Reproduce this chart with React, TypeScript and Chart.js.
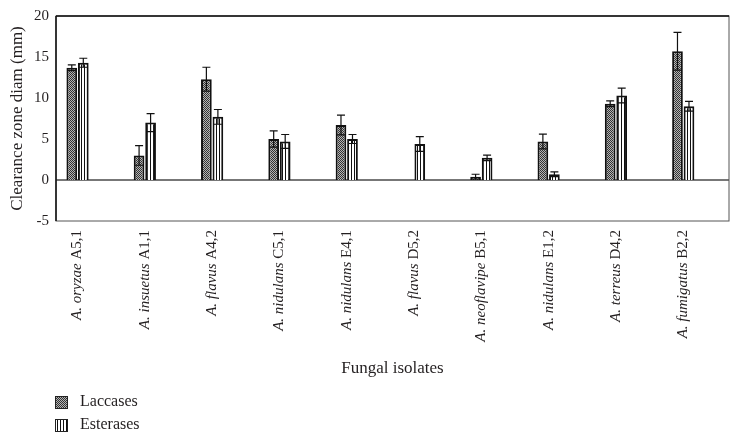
import { useEffect, useRef } from "react";
import { Chart, registerables } from "chart.js";

Chart.register(...registerables);

const species = [
  "A. oryzae",
  "A. insuetus",
  "A. flavus",
  "A. nidulans",
  "A. nidulans",
  "A. flavus",
  "A. neoflavipe",
  "A. nidulans",
  "A. terreus",
  "A. fumigatus",
];
const strains = ["A5,1", "A1,1", "A4,2", "C5,1", "E4,1", "D5,2", "B5,1", "E1,2", "D4,2", "B2,2"];
const laccases: (number | null)[] = [13.7, 3.0, 12.3, 5.0, 6.7, null, 0.4, 4.7, 9.3, 15.7];
const laccasesErr = [0.35, 1.2, 1.45, 1.0, 1.2, 0, 0.3, 0.9, 0.35, 2.3];
const esterases: (number | null)[] = [14.3, 7.0, 7.7, 4.7, 5.0, 4.4, 2.7, 0.7, 10.3, 9.0];
const esterasesErr = [0.55, 1.1, 0.9, 0.85, 0.55, 0.9, 0.33, 0.3, 0.9, 0.6];
const yTicks = [-5, 0, 5, 10, 15, 20];
const seriesLabels = ["Laccases", "Esterases"];
const yTitle = "Clearance zone diam (mm)";
const xTitle = "Fungal isolates";

const SERIF = '"Liberation Serif", "DejaVu Serif", serif';
const TEXT = "#231f20";

function makeCheckPattern(ctx: CanvasRenderingContext2D): CanvasPattern {
  const c = document.createElement("canvas");
  c.width = 2;
  c.height = 2;
  const g = c.getContext("2d")!;
  g.fillStyle = "#333333";
  g.fillRect(0, 0, 2, 2);
  g.fillStyle = "#b4b4b4";
  g.fillRect(1, 0, 1, 1);
  g.fillRect(0, 1, 1, 1);
  return ctx.createPattern(c, "repeat")!;
}

function makeStripePattern(ctx: CanvasRenderingContext2D): CanvasPattern {
  const c = document.createElement("canvas");
  c.width = 3;
  c.height = 1;
  const g = c.getContext("2d")!;
  g.fillStyle = "#ffffff";
  g.fillRect(0, 0, 3, 1);
  g.fillStyle = "#111111";
  g.fillRect(0, 0, 1, 1);
  return ctx.createPattern(c, "repeat")!;
}

const errorsPlugin = {
  id: "errorBarsAndDecor",
  beforeDatasetsDraw(chart: any) {
    const { ctx, chartArea, scales } = chart;
    const y0 = scales.y.getPixelForValue(0);
    ctx.save();
    ctx.strokeStyle = "#4a4a4a";
    ctx.lineWidth = 1.5;
    ctx.beginPath();
    ctx.moveTo(chartArea.left, y0);
    ctx.lineTo(chartArea.right, y0);
    ctx.stroke();
    ctx.restore();
  },
  afterDatasetsDraw(chart: any) {
    const { ctx, chartArea, scales } = chart;
    const errs = [laccasesErr, esterasesErr];
    ctx.save();
    ctx.strokeStyle = "#111";
    ctx.lineWidth = 1.2;
    chart.data.datasets.forEach((ds: any, di: number) => {
      const meta = chart.getDatasetMeta(di);
      meta.data.forEach((el: any, i: number) => {
        const v = ds.data[i].y;
        if (v === null || v === undefined) return;
        const e = errs[di][i];
        if (!e) return;
        const x = el.x;
        const yt = scales.y.getPixelForValue(v + e);
        const yb = scales.y.getPixelForValue(v - e);
        ctx.beginPath();
        ctx.moveTo(x, yt);
        ctx.lineTo(x, yb);
        ctx.moveTo(x - 4, yt);
        ctx.lineTo(x + 4, yt);
        ctx.moveTo(x - 4, yb);
        ctx.lineTo(x + 4, yb);
        ctx.stroke();
      });
    });
    ctx.restore();

    // frame
    ctx.save();
    ctx.strokeStyle = "#555";
    ctx.lineWidth = 1;
    ctx.strokeRect(chartArea.left, chartArea.top, chartArea.right - chartArea.left, chartArea.bottom - chartArea.top);
    ctx.strokeStyle = "#111";
    ctx.lineWidth = 1.5;
    ctx.beginPath();
    ctx.moveTo(chartArea.left, chartArea.top);
    ctx.lineTo(chartArea.right, chartArea.top);
    ctx.moveTo(chartArea.left, chartArea.top);
    ctx.lineTo(chartArea.left, chartArea.bottom);
    ctx.stroke();
    ctx.restore();

    // x labels (rotated, italic species + upright strain)
    ctx.save();
    ctx.fillStyle = TEXT;
    ctx.textBaseline = "middle";
    const italic = `italic 15px ${SERIF}`;
    const upright = `15px ${SERIF}`;
    species.forEach((sp, i) => {
      const x = scales.x.getPixelForValue(i);
      ctx.save();
      ctx.translate(x, chartArea.bottom + 9);
      ctx.rotate(-Math.PI / 2);
      ctx.textAlign = "right";
      ctx.font = upright;
      const tail = " " + strains[i];
      const tw = ctx.measureText(tail).width;
      ctx.fillText(tail, 0, 0);
      ctx.font = italic;
      ctx.fillText(sp, -tw, 0);
      ctx.restore();
    });
    ctx.restore();

    // axis titles
    ctx.save();
    ctx.fillStyle = TEXT;
    ctx.font = `17px ${SERIF}`;
    ctx.textAlign = "center";
    ctx.textBaseline = "middle";
    ctx.fillText(xTitle, (chartArea.left + chartArea.right) / 2, 369);
    ctx.translate(18, (chartArea.top + chartArea.bottom) / 2);
    ctx.rotate(-Math.PI / 2);
    ctx.fillText(yTitle, 0, 0);
    ctx.restore();

    // legend
    ctx.save();
    ctx.font = `16px ${SERIF}`;
    ctx.textAlign = "left";
    ctx.textBaseline = "middle";
    chart.data.datasets.forEach((ds: any, di: number) => {
      const cy = 402 + di * 23;
      ctx.fillStyle = ds.backgroundColor;
      ctx.fillRect(55, cy - 6, 13, 13);
      ctx.strokeStyle = "#222";
      ctx.lineWidth = 1;
      ctx.strokeRect(55.5, cy - 5.5, 12, 12);
      ctx.fillStyle = TEXT;
      ctx.fillText(ds.label, 80, cy);
    });
    ctx.restore();
  },
};

export default function App() {
  const canvasRef = useRef<HTMLCanvasElement | null>(null);

  useEffect(() => {
    const canvas = canvasRef.current!;
    const ctx = canvas.getContext("2d")!;
    const check = makeCheckPattern(ctx);
    const stripe = makeStripePattern(ctx);
    const chart = new Chart(canvas, {
      type: "bar",
      data: {
        datasets: [
          {
            label: seriesLabels[0],
            data: laccases.map((v, i) => ({ x: i, y: v })) as any,
            backgroundColor: check as any,
            borderColor: "#111",
            borderWidth: 2,
            categoryPercentage: 0.342,
            barPercentage: 0.93,
          },
          {
            label: seriesLabels[1],
            data: esterases.map((v, i) => ({ x: i, y: v })) as any,
            backgroundColor: stripe as any,
            borderColor: "#111",
            borderWidth: 2,
            categoryPercentage: 0.342,
            barPercentage: 0.93,
          },
        ],
      },
      options: {
        animation: false,
        responsive: false,
        maintainAspectRatio: false,
        layout: { padding: { top: 16, right: 11, left: 0, bottom: 0 } },
        plugins: {
          legend: { display: false },
          tooltip: { enabled: false },
        },
        scales: {
          x: {
            type: "linear",
            offset: false,
            min: -0.32,
            max: 9.68,
            grid: { display: false, offset: false },
            border: { display: false },
            ticks: { display: false },
            afterBuildTicks: (scale: any) => {
              scale.ticks = species.map((_, i) => ({ value: i }));
            },
            afterFit: (scale: any) => {
              scale.height = 221;
            },
          },
          y: {
            min: yTicks[0],
            max: yTicks[yTicks.length - 1],
            grid: { display: false, drawTicks: false },
            border: { display: false },
            afterBuildTicks: (scale: any) => {
              scale.ticks = yTicks.map((v) => ({ value: v }));
            },
            ticks: {
              color: TEXT,
              font: { family: SERIF, size: 15 },
              padding: 7,
            },
            afterFit: (scale: any) => {
              scale.width = 56;
            },
          },
        },
      },
      plugins: [errorsPlugin],
    });
    return () => chart.destroy();
  }, []);

  return (
    <div style={{ position: "fixed", left: 0, top: 0, width: 740, height: 442, background: "#fff" }}>
      <canvas ref={canvasRef} width={740} height={442} style={{ width: 740, height: 442 }} />
    </div>
  );
}
